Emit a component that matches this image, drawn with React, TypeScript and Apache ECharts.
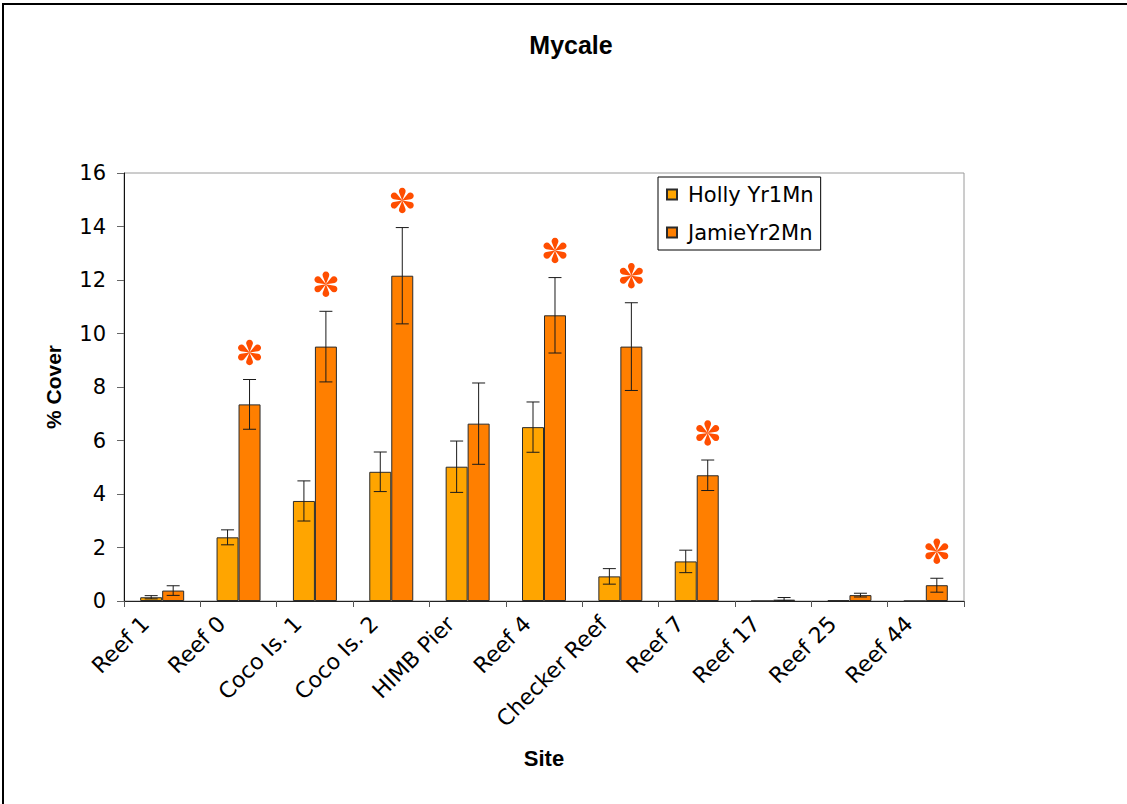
import React, { useEffect, useRef } from "react";
import * as echarts from "echarts";

const sites = ["Reef 1", "Reef 0", "Coco Is. 1", "Coco Is. 2", "HIMB Pier", "Reef 4", "Checker Reef", "Reef 7", "Reef 17", "Reef 25", "Reef 44"];
const hollyValues = [0.14, 2.38, 3.74, 4.83, 5.02, 6.5, 0.92, 1.48, 0, 0.03, 0];
const hollyErrors = [0.06, 0.28, 0.75, 0.74, 0.96, 0.94, 0.29, 0.42, 0, 0, 0];
const jamieValues = [0.39, 7.35, 9.51, 12.16, 6.63, 10.68, 9.51, 4.7, 0.05, 0.22, 0.59];
const jamieErrors = [0.18, 0.93, 1.32, 1.8, 1.52, 1.41, 1.64, 0.57, 0.08, 0.07, 0.26];
const significant = [false, true, true, true, false, true, true, true, false, false, true];
const yTicks = [0, 2, 4, 6, 8, 10, 12, 14, 16];
const seriesNames = ["Holly Yr1Mn", "JamieYr2Mn"];

const BAR_FRAC = 0.288;

function asteriskPath(R: number): string {
  const d = 0.72 * R;
  const r = 0.26 * R;
  const alpha = Math.asin(r / d);
  const L = Math.sqrt(d * d - r * r);
  let p = "";
  for (let k = 0; k < 6; k++) {
    const th = (k * Math.PI) / 3;
    const a1 = th - alpha;
    const a2 = th + alpha;
    const x1 = L * Math.sin(a1), y1 = -L * Math.cos(a1);
    const x2 = L * Math.sin(a2), y2 = -L * Math.cos(a2);
    p += `M0 0 L${x1.toFixed(3)} ${y1.toFixed(3)} A${r.toFixed(3)} ${r.toFixed(3)} 0 1 1 ${x2.toFixed(3)} ${y2.toFixed(3)} Z `;
  }
  return p;
}

export default function App() {
  const ref = useRef<HTMLDivElement>(null);
  useEffect(() => {
    document.body.style.margin = "0";
    const chart = echarts.init(ref.current!, null, { renderer: "svg" });
    const star = asteriskPath(13);

    const errSeries = (vals: number[], errs: number[], side: number, withStars: boolean) => ({
      type: "custom",
      silent: true,
      z: 5,
      data: vals.map((v, i) => [i, v, errs[i], withStars && significant[i] ? 1 : 0]),
      encode: { x: 0, y: 1 },
      renderItem: (params: any, api: any) => {
        const idx = api.value(0);
        const v = api.value(1);
        const e = api.value(2);
        const s = api.value(3);
        const band = api.size([1, 0])[0];
        const off = side * band * BAR_FRAC / 2;
        const top = api.coord([idx, v + e]);
        const bot = api.coord([idx, Math.max(0, v - e)]);
        const x = top[0] + off;
        const children: any[] = [];
        const ls = { stroke: "#1a1a1a", lineWidth: 1 };
        if (e > 0) {
          children.push({ type: "line", shape: { x1: x, y1: top[1], x2: x, y2: bot[1] }, style: ls });
          children.push({ type: "line", shape: { x1: x - 6.5, y1: top[1], x2: x + 6.5, y2: top[1] }, style: ls });
          children.push({ type: "line", shape: { x1: x - 6.5, y1: bot[1], x2: x + 6.5, y2: bot[1] }, style: ls });
        }
        if (s) {
          children.push({ type: "path", x: x, y: top[1] - 27, shape: { pathData: star }, style: { fill: "#FF4E00" } });
        }
        return { type: "group", children };
      },
    });

    chart.setOption({
      animation: false,
      backgroundColor: "#fff",
      grid: { left: 124, top: 173, width: 840, height: 428, show: true, borderColor: "#9a9a9a", borderWidth: 1, backgroundColor: "transparent" },
      legend: {
        data: seriesNames,
        left: 658,
        top: 177,
        orient: "vertical",
        icon: "rect",
        itemWidth: 10,
        itemHeight: 10,
        itemGap: 17,
        padding: [7, 7, 7, 8],
        borderColor: "#000",
        borderWidth: 1,
        backgroundColor: "#fff",
        textStyle: { fontFamily: "DejaVu Sans", fontSize: 21, color: "#000", lineHeight: 20, padding: [0, 0, 0, 6] },
      },
      xAxis: {
        type: "category",
        data: sites,
        axisLine: { lineStyle: { color: "#222", width: 1 } },
        axisTick: { show: true, length: 6, inside: false, lineStyle: { color: "#555" } },
        axisLabel: {
          interval: 0,
          rotate: 45,
          margin: 2,
          fontFamily: "DejaVu Sans",
          fontSize: 22,
          color: "#000",
          padding: [0, 24, 0, 0],
        },
        splitLine: { show: false },
      },
      yAxis: {
        type: "value",
        min: yTicks[0],
        max: yTicks[yTicks.length - 1],
        interval: 2,
        axisLine: { show: true, lineStyle: { color: "#111", width: 1 } },
        axisTick: { show: true, length: 7, lineStyle: { color: "#666" } },
        axisLabel: { margin: 18, fontFamily: "DejaVu Sans", fontSize: 21, color: "#000" },
        splitLine: { show: false },
      },
      series: [
        {
          name: seriesNames[0],
          type: "bar",
          data: hollyValues,
          barWidth: `${BAR_FRAC * 100}%`,
          barGap: "0%",
          itemStyle: { color: "#FFA500", borderColor: "#2b2b2b", borderWidth: 1 },
        },
        {
          name: seriesNames[1],
          type: "bar",
          data: jamieValues,
          barWidth: `${BAR_FRAC * 100}%`,
          barGap: "0%",
          itemStyle: { color: "#FF7F00", borderColor: "#2b2b2b", borderWidth: 1 },
        },
        errSeries(hollyValues, hollyErrors, -1, false),
        errSeries(jamieValues, jamieErrors, 1, true),
      ],
      graphic: [
        { type: "rect", shape: { x: 3, y: 4, width: 1200, height: 1000 }, style: { fill: "none", stroke: "#000", lineWidth: 2 }, silent: true, z: 100 },
        { type: "text", x: 571, y: 45, style: { text: "Mycale", font: "bold 25px 'Liberation Sans', Arial, sans-serif", fill: "#000", align: "center", verticalAlign: "middle" } },
        { type: "text", x: 53, y: 387, rotation: Math.PI / 2, style: { text: "% Cover", font: "bold 21px 'Liberation Sans', Arial, sans-serif", fill: "#000", align: "center", verticalAlign: "middle" } },
        { type: "text", x: 544, y: 758, style: { text: "Site", font: "bold 22px 'Liberation Sans', Arial, sans-serif", fill: "#000", align: "center", verticalAlign: "middle" } },
      ],
    });
    return () => chart.dispose();
  }, []);
  return <div ref={ref} style={{ width: 1127, height: 804 }} />;
}
